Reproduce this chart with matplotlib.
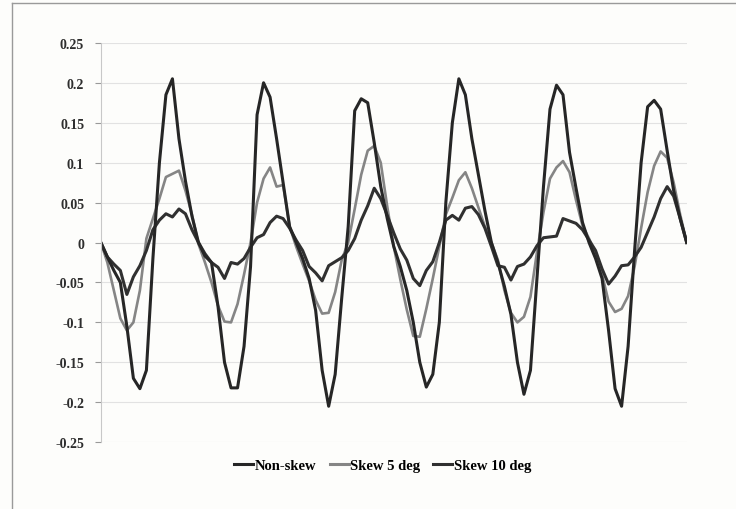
import numpy as np
import matplotlib
matplotlib.use("Agg")
import matplotlib.pyplot as plt
from matplotlib.lines import Line2D

# values, 91 samples along the x axis
non_skew = [0.0, -0.018, -0.035, -0.05, -0.105, -0.17, -0.183, -0.16, -0.02, 0.10,
            0.185, 0.205, 0.13, 0.077, 0.033, 0.0, -0.017, -0.025, -0.08, -0.15,
            -0.182, -0.182, -0.13, -0.03, 0.16, 0.2, 0.182, 0.13, 0.075, 0.02,
            0.0, -0.02, -0.045, -0.085, -0.16, -0.205, -0.165, -0.07, 0.02, 0.165,
            0.18, 0.175, 0.125, 0.07, 0.03, -0.005, -0.03, -0.06, -0.1, -0.15,
            -0.181, -0.165, -0.1, 0.05, 0.15, 0.205, 0.185, 0.13, 0.085, 0.04,
            0.0, -0.025, -0.055, -0.09, -0.15, -0.19, -0.16, -0.045, 0.07, 0.167,
            0.197, 0.185, 0.113, 0.068, 0.025, 0.0, -0.02, -0.045, -0.11, -0.183,
            -0.205, -0.13, -0.01, 0.1, 0.17, 0.178, 0.167, 0.115, 0.065, 0.03,
            0.0]

skew_5 = [0.0, -0.025, -0.06, -0.095, -0.11, -0.1, -0.06, 0.005, 0.03, 0.055,
          0.082, 0.086, 0.09, 0.065, 0.035, -0.002, -0.025, -0.05, -0.079, -0.099,
          -0.1, -0.077, -0.04, 0.0, 0.05, 0.08, 0.094, 0.07, 0.072, 0.02,
          -0.005, -0.027, -0.048, -0.072, -0.089, -0.088, -0.062, -0.022, 0.0, 0.042,
          0.085, 0.115, 0.121, 0.1, 0.045, -0.005, -0.046, -0.084, -0.117, -0.118,
          -0.083, -0.045, -0.005, 0.035, 0.056, 0.078, 0.088, 0.068, 0.044, 0.02,
          0.0, -0.022, -0.06, -0.088, -0.1, -0.093, -0.068, -0.012, 0.038, 0.08,
          0.094, 0.102, 0.088, 0.053, 0.021, 0.005, -0.014, -0.04, -0.074, -0.087,
          -0.083, -0.067, -0.03, 0.018, 0.063, 0.096, 0.114, 0.106, 0.075, 0.035,
          0.0]

skew_10 = [0.0, -0.018, -0.027, -0.035, -0.065, -0.043, -0.029, -0.01, 0.016, 0.028,
           0.036, 0.032, 0.042, 0.036, 0.016, 0.0, -0.014, -0.025, -0.031, -0.045,
           -0.025, -0.027, -0.02, -0.006, 0.006, 0.01, 0.025, 0.033, 0.03, 0.018,
           0.003, -0.01, -0.03, -0.038, -0.048, -0.029, -0.024, -0.019, -0.01, 0.005,
           0.028, 0.046, 0.068, 0.055, 0.034, 0.012, -0.008, -0.022, -0.045, -0.054,
           -0.035, -0.024, 0.0, 0.028, 0.034, 0.028, 0.043, 0.045, 0.035, 0.018,
           -0.005, -0.029, -0.031, -0.047, -0.03, -0.027, -0.018, -0.004, 0.006, 0.007,
           0.008, 0.03, 0.027, 0.024, 0.016, 0.003, -0.01, -0.033, -0.052, -0.042,
           -0.029, -0.028, -0.018, -0.006, 0.013, 0.032, 0.055, 0.07, 0.058, 0.03,
           0.0]

labels = ["Non-skew", "Skew 5 deg", "Skew 10 deg"]
colors = ["#262626", "#858585", "#303030"]
yticks = [0.25, 0.2, 0.15, 0.1, 0.05, 0, -0.05, -0.1, -0.15, -0.2, -0.25]
ytick_labels = ["0.25", "0.2", "0.15", "0.1", "0.05", "0", "-0.05", "-0.1", "-0.15", "-0.2", "-0.25"]

plt.rcParams["font.family"] = ["Liberation Serif", "DejaVu Serif"]

fig = plt.figure(figsize=(7.36, 5.10), dpi=100, facecolor="#fdfdfb")
ax = fig.add_axes([0.137, 0.131, 0.796, 0.783])
ax.set_facecolor("#fdfdfb")

x = np.arange(len(non_skew))
for ys, c, lw in zip([skew_5, skew_10, non_skew], [colors[1], colors[2], colors[0]], [1.9, 2.2, 2.2]):
    ax.plot(x, ys, color=c, lw=lw, solid_joinstyle="round")

ax.set_xlim(0, len(non_skew) - 1)
ax.set_ylim(-0.25, 0.25)
ax.set_yticks(yticks)
ax.set_yticklabels(ytick_labels, fontsize=10, fontweight="bold", color="#2e2e2e")
ax.set_xticks([])
ax.grid(axis="y", color="#e2e2e2", lw=0.8)
ax.set_axisbelow(True)
for s in ["top", "right", "bottom"]:
    ax.spines[s].set_visible(False)
ax.spines["left"].set_color("#c8c8c8")
ax.spines["left"].set_linestyle((0, (1, 1)))
ax.tick_params(axis="y", length=4, color="#999999", pad=8)

handles = [Line2D([0], [0], color=c, lw=2.2) for c in colors]
fig.legend(handles, labels, loc="center", bbox_to_anchor=(0.52, 0.086), ncol=3,
           frameon=False, handlelength=1.3, handletextpad=0.1, columnspacing=0.9,
           prop={"size": 10.5, "weight": "bold"})

# scanned frame edges
fig.add_artist(Line2D([0.016, 0.016], [0.0, 0.992], color="#9a9a9a", lw=1))
fig.add_artist(Line2D([0.016, 1.0], [0.992, 0.992], color="#9a9a9a", lw=1))

fig.savefig("out.png", dpi=100, facecolor=fig.get_facecolor())
